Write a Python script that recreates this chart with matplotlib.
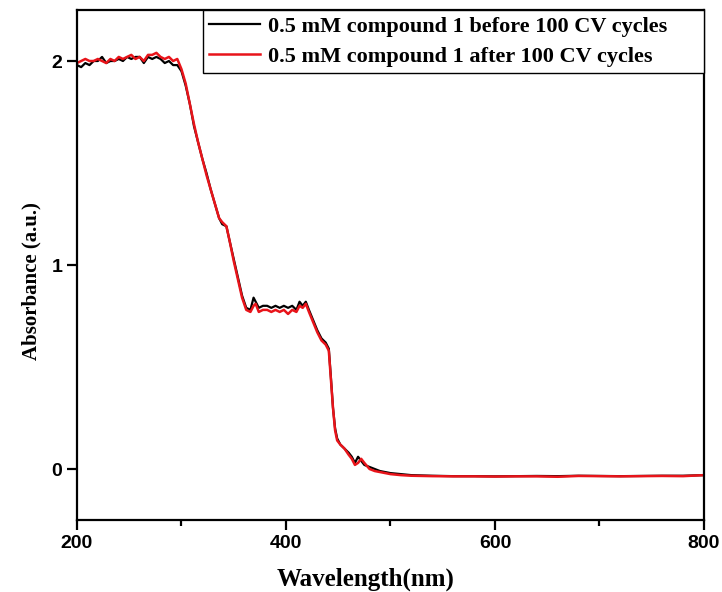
import matplotlib.pyplot as plt
from matplotlib.ticker import MultipleLocator

# UV-vis absorbance
wavelength = [200, 204, 208, 212, 216, 220, 224, 228, 232, 236, 240, 244, 248, 252,
              256, 260, 264, 268, 272, 276, 280, 284, 288, 292, 296, 300, 304, 308,
              312, 316, 320, 324, 328, 332, 336, 339, 343, 346, 350, 354, 358, 362,
              366, 369, 371, 374, 378, 382, 386, 390, 394, 398, 402, 406, 410, 413,
              416, 419, 422, 426, 430, 434, 438, 441, 443, 445, 447, 449, 452, 456,
              460, 463, 466, 469, 472, 475, 480, 485, 490, 495, 500, 510, 520, 540,
              560, 580, 600, 620, 640, 660, 680, 700, 720, 740, 760, 780, 800]

before_cv = [1.98, 1.97, 1.99, 1.98, 2.00, 2.00, 2.02, 1.99, 2.00, 2.00, 2.01, 2.00,
             2.02, 2.01, 2.02, 2.02, 1.99, 2.02, 2.01, 2.02, 2.01, 1.99, 2.00, 1.98,
             1.98, 1.95, 1.88, 1.79, 1.68, 1.60, 1.52, 1.45, 1.37, 1.30, 1.23, 1.20,
             1.19, 1.12, 1.03, 0.94, 0.85, 0.79, 0.78, 0.84, 0.82, 0.79, 0.80, 0.80,
             0.79, 0.80, 0.79, 0.80, 0.79, 0.80, 0.78, 0.82, 0.80, 0.82, 0.78, 0.73,
             0.68, 0.64, 0.62, 0.59, 0.45, 0.30, 0.20, 0.15, 0.12, 0.10, 0.08, 0.06,
             0.03, 0.06, 0.04, 0.02, 0.01, 0.00, -0.01, -0.015, -0.02, -0.025, -0.03,
             -0.033, -0.035, -0.035, -0.036, -0.035, -0.034, -0.035, -0.033, -0.034,
             -0.035, -0.034, -0.033, -0.033, -0.03]

after_cv = [1.99, 2.00, 2.01, 2.00, 2.00, 2.01, 2.00, 1.99, 2.01, 2.00, 2.02, 2.01,
            2.02, 2.03, 2.01, 2.02, 2.00, 2.03, 2.03, 2.04, 2.02, 2.01, 2.02, 2.00,
            2.01, 1.96, 1.89, 1.79, 1.69, 1.60, 1.52, 1.44, 1.37, 1.30, 1.23, 1.21,
            1.19, 1.12, 1.02, 0.93, 0.84, 0.78, 0.77, 0.80, 0.81, 0.77, 0.78, 0.78,
            0.77, 0.78, 0.77, 0.78, 0.76, 0.78, 0.77, 0.80, 0.79, 0.81, 0.77, 0.72,
            0.67, 0.63, 0.61, 0.58, 0.44, 0.30, 0.19, 0.14, 0.12, 0.10, 0.07, 0.05,
            0.02, 0.03, 0.05, 0.03, 0.00, -0.01, -0.015, -0.02, -0.025, -0.03, -0.033,
            -0.035, -0.036, -0.036, -0.037, -0.036, -0.036, -0.038, -0.034, -0.035,
            -0.036, -0.035, -0.034, -0.035, -0.03]

labels = ['0.5 mM compound 1 before 100 CV cycles',
          '0.5 mM compound 1 after 100 CV cycles']

fig = plt.figure(figsize=(7.22, 5.92), dpi=100)
ax = fig.add_axes([0.1066, 0.1216, 0.8684, 0.8615])

ax.plot(wavelength, before_cv, color='black', lw=1.6, label=labels[0])
ax.plot(wavelength, after_cv, color='#e8141a', lw=1.8, label=labels[1])

ax.set_xlim(200, 800)
ax.set_ylim(-0.25, 2.25)
ax.xaxis.set_major_locator(MultipleLocator(200))
ax.xaxis.set_minor_locator(MultipleLocator(100))
ax.yaxis.set_major_locator(MultipleLocator(1))

for s in ax.spines.values():
    s.set_linewidth(1.6)
ax.tick_params(which='major', direction='out', length=7, width=1.6,
               labelsize=14, top=False, right=False)
ax.tick_params(which='minor', direction='out', length=4, width=1.6)
for lab in ax.get_xticklabels() + ax.get_yticklabels():
    lab.set_fontfamily('Liberation Sans')
    lab.set_fontweight('bold')

ax.set_xlabel('Wavelength(nm)', family='Liberation Serif', weight='bold', fontsize=18)
ax.set_ylabel('Absorbance (a.u.)', family='Liberation Serif', weight='bold', fontsize=15)
ax.xaxis.set_label_coords(0.461, -0.094)
ax.yaxis.set_label_coords(-0.056, 0.469)

leg = ax.legend(loc='upper right', bbox_to_anchor=(0.201, 0, 0.799, 1), mode='expand',
                borderaxespad=0, fancybox=False, edgecolor='black',
                handlelength=2.3, handletextpad=0.35, labelspacing=0.45, borderpad=0.27,
                prop={'family': 'Liberation Serif', 'weight': 'bold', 'size': 16})
leg.get_frame().set_linewidth(1.0)
leg.get_frame().set_alpha(1)

fig.savefig('out.png', dpi=100)
